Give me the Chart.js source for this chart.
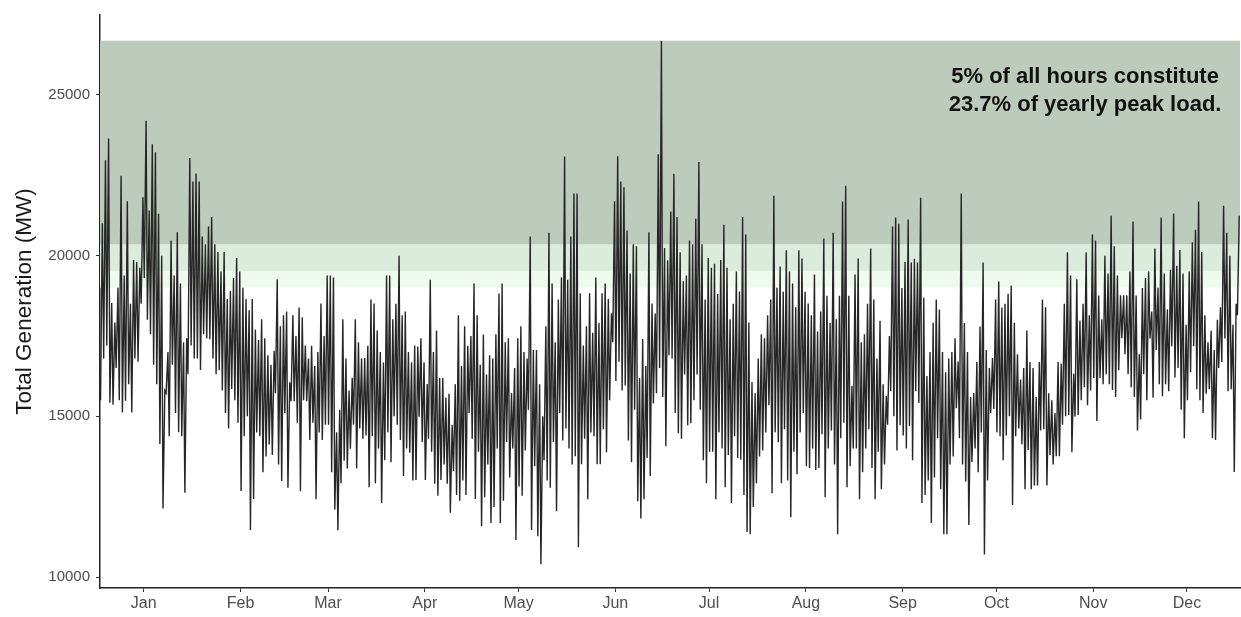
<!DOCTYPE html>
<html><head><meta charset="utf-8">
<script src="https://cdn.jsdelivr.net/npm/chart.js@4"></script>
<style>html,body{margin:0;padding:0;background:#fff;}#wrap{width:1241px;height:617px;}</style>
</head><body><div id="wrap"><canvas id="c" width="1241" height="617"></canvas></div>
<script>
// Daily peak (afternoon) and trough (night) of total generation, MW, day 0 = Jan 1
const dailyHigh = [
21000,22960,23640,18520,17920,19000,22480,19380,21690,18500,
19860,19800,19620,21810,24190,21400,23460,23210,21300,19990,
15800,17000,20470,19380,20720,19130,17300,17430,23030,22300,
22550,22300,20590,20350,20900,21200,20350,20110,19500,20110,
18650,18900,19300,19920,19500,19000,18650,18300,18650,17700,
17370,18020,17430,16900,16600,17040,19260,17800,18140,18260,
16060,18140,17500,18380,18080,17200,16800,17190,16560,17000,
18510,17500,19380,19380,19320,14500,15200,18020,16800,15800,
16200,18020,17300,16800,16810,17190,18630,18510,17670,17000,
16670,19380,19380,18020,18500,19990,18140,18260,17000,16680,
17200,17170,17430,16680,16000,19250,17000,17670,16190,16190,
15580,15700,14740,16000,18140,16560,17800,17190,17500,19130,
18140,16600,17540,16300,16900,16800,17550,18820,19130,17300,
17430,15720,16500,17430,17800,17000,16800,20590,17060,17060,
16000,15000,17800,20710,19130,17300,18630,19320,23080,19250,
20590,21930,21930,18830,17200,17800,18830,17600,19320,17900,
18830,19130,18650,18200,21690,23090,22300,22120,20780,19440,
20350,20290,16190,17400,16560,20720,18510,18200,23150,26680,
20230,19850,21370,22540,21200,20100,19200,19380,20470,20350,
21140,22910,20350,18630,19920,19620,19740,18800,19860,20960,
19620,18020,18500,19500,18880,21200,20650,17920,16070,15720,
16800,17550,17430,18140,18630,21860,19000,19660,18870,20160,
19500,19130,18390,20160,19910,18870,18510,18140,19410,17640,
18260,20530,18750,17900,20710,18020,18750,21680,22170,18750,
15950,19410,19910,17300,17550,18500,20220,18630,16800,17970,
16000,15630,17500,20900,21180,20990,18990,19800,21120,19780,
19900,19780,21800,18690,16250,17000,17910,18630,18320,17000,
16370,16800,17000,17430,16700,21930,17900,17000,15600,15720,
16690,17790,19780,17060,16500,16810,18630,19190,18380,18500,
18810,19070,17910,16930,16140,16500,17670,16690,16500,15600,
16690,18630,18390,15720,15500,15100,16690,16630,18500,20100,
19380,16320,19260,17980,18500,20100,18140,20650,20470,18760,
18020,19990,19440,21240,20290,19380,18760,18760,18760,19500,
21060,18760,16930,18990,19300,19500,18260,20220,19000,21180,
19440,18330,19560,21310,19680,20170,19440,17850,19500,20410,
20800,21680,20110,18140,17300,17670,17060,18000,18390,21550,
20710,19990,17850,18500,21240
];
const dailyLow = [
15500,16800,17200,15420,15360,16500,15500,15120,15480,16000,
15120,16800,16700,18500,19300,18000,17550,16600,16000,14140,
12130,15720,14380,16600,15100,14500,14380,12620,16310,17200,
16800,16800,16440,17550,17430,17400,16800,16310,16430,15800,
15100,14620,15850,15500,14800,12680,14380,15000,11460,12430,
14500,14380,13260,13750,14120,13800,15720,13500,12990,15100,
12780,15470,15470,14800,12670,15500,15470,14260,14800,12420,
14500,14260,14740,14740,13260,12100,11460,12920,13620,13380,
13990,14740,13380,14620,14300,14400,12790,14380,12920,14000,
12300,13630,14500,13570,15000,14740,14260,13140,14000,13870,
13000,13020,14990,14200,13020,14300,13900,12900,12530,13020,
13500,12900,12000,13300,12550,12370,13000,12550,15100,14300,
12430,13900,11580,12480,13500,11680,12180,14000,11680,12370,
14200,13100,14000,11150,12820,12530,13940,15200,11460,13450,
11270,10400,13630,13000,12780,14200,12050,15100,14250,14620,
14000,13500,13760,10930,13510,14300,12420,14500,14380,13510,
13510,14600,13880,15500,17300,16100,16700,15800,15960,14250,
13570,15200,12360,11820,12420,13700,13140,15400,15720,16500,
15600,14070,16900,16800,15100,14470,14300,16300,14720,14780,
15500,16300,15200,13630,12920,13900,13900,12420,14500,14000,
12790,13800,12300,14380,13700,13650,12550,11400,11330,12180,
12920,13750,13940,14500,15340,12610,14500,14190,12920,14600,
13000,11860,13900,13200,14500,15100,13450,13390,14000,13330,
13390,14440,12480,14000,14560,13500,11330,14320,14800,12790,
13450,14000,14000,12420,13260,14000,14600,13390,12420,13900,
12730,13500,14740,15780,15000,13940,14720,14400,14000,14700,
13630,15780,15410,12300,12550,13000,11680,13100,14320,12730,
11330,11330,13500,13750,15250,14320,13500,12970,11620,13580,
14000,13260,14500,10700,13000,15100,15230,14500,14380,13630,
14400,15000,12240,14380,14620,14130,12730,13950,12730,12850,
12850,14560,14600,12850,13800,13500,13760,13760,14740,15000,
15040,13880,14990,15040,15500,15900,15340,15800,16190,14850,
16190,16000,16310,16000,15820,15600,16430,17430,16930,16310,
15900,15600,14560,14900,16310,15500,17420,15580,17060,16000,
15620,16000,15780,17180,16210,16500,15200,14320,15500,16370,
17180,15840,15500,15100,15700,15840,14320,14260,16500,16690,
17420,15780,15840,13270,18140
];
const monthLabels = ['Jan','Feb','Mar','Apr','May','Jun','Jul','Aug','Sep','Oct','Nov','Dec'];
const monthTickDays = [14,45,73,104,134,165,195,226,257,287,318,348];
const yTickValues = [10000,15000,20000,25000];
const bandBounds = [[20340,26680],[19520,20340],[19000,19520]];
const annotationLines = ['5% of all hours constitute','23.7% of yearly peak load.'];

const bandColors = ['#bccbbc','#dcecdc','#eefaee'];
const FONT = '"Liberation Sans", Arial, sans-serif';
const points = [];
for (let d = 0; d < dailyHigh.length; d++) {
  points.push({x: d + 0.17, y: dailyLow[d]});
  points.push({x: d + 0.75, y: dailyHigh[d]});
}

const bandsPlugin = {
  id: 'bands',
  beforeDatasetsDraw(chart) {
    const {ctx, chartArea: a, scales: {y}} = chart;
    ctx.save();
    bandBounds.forEach((b, i) => {
      const top = y.getPixelForValue(b[1]);
      const bot = y.getPixelForValue(b[0]);
      ctx.fillStyle = bandColors[i];
      ctx.fillRect(a.left, top, a.right - a.left, bot - top);
    });
    ctx.restore();
  },
  afterDraw(chart) {
    const {ctx, scales: {x, y}} = chart;
    ctx.save();
    ctx.font = 'bold 22px ' + FONT;
    ctx.fillStyle = '#111';
    ctx.textAlign = 'center';
    ctx.textBaseline = 'middle';
    const cx = x.getPixelForValue(315.4);
    ctx.fillText(annotationLines[0], cx, y.getPixelForValue(25560));
    ctx.fillText(annotationLines[1], cx, y.getPixelForValue(24690));
    ctx.restore();
  }
};

new Chart(document.getElementById('c'), {
  type: 'line',
  data: {datasets: [{
    data: points,
    borderColor: '#262626',
    borderWidth: 1.4,
    pointRadius: 0,
    tension: 0,
    fill: false
  }]},
  options: {
    responsive: false,
    animation: false,
    devicePixelRatio: 1,
    layout: {padding: {top: 13, right: 1, left: 0, bottom: 0}},
    plugins: {legend: {display: false}, tooltip: {enabled: false}},
    scales: {
      x: {
        type: 'linear', min: 0, max: 365,
        afterBuildTicks(s) { s.ticks = monthTickDays.map(v => ({value: v})); },
        afterFit(s) { s.height = 29; },
        ticks: {
          autoSkip: false, maxRotation: 0, color: '#4d4d4d', font: {family: FONT, size: 16}, padding: 2,
          callback(v) { const i = monthTickDays.indexOf(v); return i >= 0 ? monthLabels[i] : ''; }
        },
        grid: {drawOnChartArea: false, drawTicks: true, tickLength: 4, color: '#333'},
        border: {display: true, color: '#222', width: 1.5}
      },
      y: {
        type: 'linear', min: 9660, max: 27480,
        afterBuildTicks(s) { s.ticks = yTickValues.map(v => ({value: v})); },
        afterFit(s) { s.width = 100; },
        ticks: {color: '#4d4d4d', font: {family: FONT, size: 15}, padding: 6, callback: v => String(v)},
        grid: {drawOnChartArea: false, drawTicks: true, tickLength: 4, color: '#333'},
        border: {display: true, color: '#222', width: 1.5},
        title: {display: true, text: 'Total Generation (MW)', color: '#1a1a1a',
          font: {family: FONT, size: 22.5}, padding: {top: 11, bottom: 0}}
      }
    }
  },
  plugins: [bandsPlugin]
});
</script></body></html>
